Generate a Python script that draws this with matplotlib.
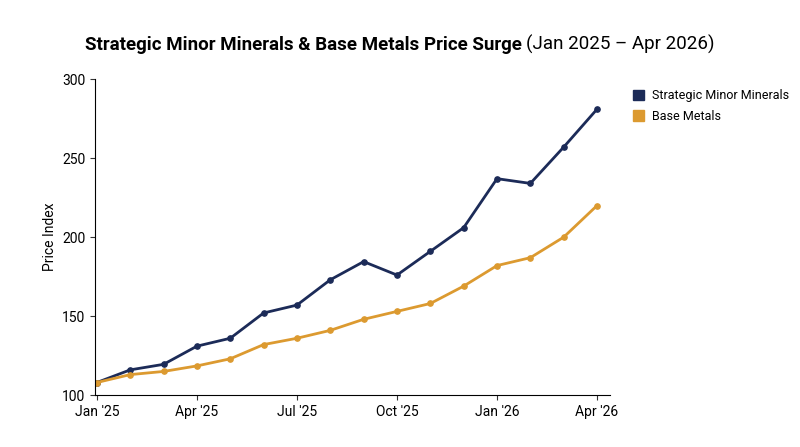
import matplotlib
matplotlib.use("Agg")
import matplotlib.pyplot as plt
import matplotlib.patches as mpatches

plt.rcParams['font.family'] = ['Roboto', 'DejaVu Sans']

months = list(range(16))
tick_pos = [0, 3, 6, 9, 12, 15]
tick_labels = ["Jan '25", "Apr '25", "Jul '25", "Oct '25", "Jan '26", "Apr '26"]
strategic = [108, 116, 119.5, 131, 136, 152, 157, 173, 184.5, 176, 191, 206, 237, 234, 257, 281]
base = [108, 113, 115, 118.5, 123, 132, 136, 141, 148, 153, 158, 169, 182, 187, 200, 220]

navy = '#1c2b58'
gold = '#dc9a30'

fig = plt.figure(figsize=(8, 4.47), dpi=100)
ax = fig.add_axes([0.119, 0.116, 0.644, 0.707])
ax.plot(months, strategic, color=navy, lw=2, marker='o', ms=3.8)
ax.plot(months, base, color=gold, lw=2, marker='o', ms=3.8)
ax.set_xlim(-0.05, 15.4)
ax.set_ylim(100, 300)
ax.set_yticks([100, 150, 200, 250, 300])
ax.set_xticks(tick_pos)
ax.set_xticklabels(tick_labels)
ax.tick_params(labelsize=10, color='#333333')
ax.spines['top'].set_visible(False)
ax.spines['right'].set_visible(False)
ax.set_ylabel('Price Index', fontsize=10)

handles = [mpatches.Patch(color=navy, label='Strategic Minor Minerals'),
           mpatches.Patch(color=gold, label='Base Metals')]
fig.legend(handles=handles, loc='upper left', bbox_to_anchor=(0.777, 0.825),
           frameon=False, fontsize=9, handlelength=0.9, handleheight=0.9,
           handletextpad=0.6, labelspacing=0.6)

t1 = fig.text(0.5, 0.9, 'Strategic Minor Minerals & Base Metals Price Surge ',
              fontsize=13.5, fontweight='bold', ha='left', va='center')
fig.canvas.draw()
r = fig.canvas.get_renderer()
w1 = t1.get_window_extent(r).width
t2 = fig.text(0, 0.9, '(Jan 2025 \u2013 Apr 2026)', fontsize=13.5, ha='left', va='center')
w2 = t2.get_window_extent(r).width
start = (800 - w1 - w2) / 2
t1.set_x(start / 800)
t2.set_x((start + w1) / 800)

fig.savefig('out.png', dpi=100)
